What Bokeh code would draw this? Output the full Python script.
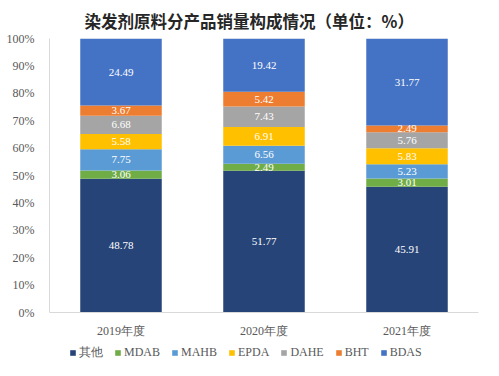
from bokeh.plotting import figure
from bokeh.layouts import column
from bokeh.models import FactorRange, Range1d, Legend, LegendItem, PrintfTickFormatter, FixedTicker, ColumnDataSource, LabelSet, Title
from bokeh.embed import file_html
from bokeh.resources import INLINE

years = ["2019年度", "2020年度", "2021年度"]
series = ["其他", "MDAB", "MAHB", "EPDA", "DAHE", "BHT", "BDAS"]
other = [48.78, 51.77, 45.91]
mdab = [3.06, 2.49, 3.01]
mahb = [7.75, 6.56, 5.23]
epda = [5.58, 6.91, 5.83]
dahe = [6.68, 7.43, 5.76]
bht = [3.67, 5.42, 2.49]
bdas = [24.49, 19.42, 31.77]
colors = ["#264478", "#70AD47", "#5B9BD5", "#FFC000", "#A5A5A5", "#ED7D31", "#4472C4"]

values = [other, mdab, mahb, epda, dahe, bht, bdas]
data = {"year": years}
for name, vals in zip(series, values):
    data[name] = vals
source = ColumnDataSource(data)

p = figure(x_range=FactorRange(factors=years), y_range=Range1d(0, 100),
           width=483, height=340, output_backend="svg", toolbar_location=None,
           min_border_left=49, min_border_right=5, min_border_top=13, min_border_bottom=28)
p.outline_line_color = None
p.grid.grid_line_color = None

renderers = p.vbar_stack(series, x="year", width=0.57, color=colors, source=source, line_color=None)

# data labels
lx, ly, lt = [], [], []
for i, y in enumerate(years):
    base = 0.0
    for vals in values:
        v = vals[i]
        lx.append(y)
        ly.append(base + v / 2)
        lt.append(f"{v:.2f}")
        base += v
lsrc = ColumnDataSource(dict(x=lx, y=ly, t=lt))
labels = LabelSet(x="x", y="y", text="t", source=lsrc, text_color="white",
                  text_font="Liberation Serif", text_font_size="11px",
                  text_align="center", text_baseline="middle")
p.add_layout(labels)

# axes
p.yaxis.ticker = FixedTicker(ticks=[0, 10, 20, 30, 40, 50, 60, 70, 80, 90, 100])
p.yaxis.formatter = PrintfTickFormatter(format="%d%%")
for ax in (p.xaxis[0], p.yaxis[0]):
    ax.axis_line_color = "#D9D9D9"
    ax.major_tick_line_color = None
    ax.minor_tick_line_color = None
    ax.major_label_text_font = "Liberation Serif"
    ax.major_label_text_color = "#595959"
    ax.major_label_text_font_size = "12px"
p.yaxis.major_label_standoff = 9
p.xaxis.major_label_standoff = 5

# title
t = Title(text="染发剂原料分产品销量构成情况（单位：%）", align="left", offset=35,
          text_font="Noto Sans CJK SC", text_font_style="bold", text_font_size="16.5px",
          text_color="#262626", standoff=12)
p.add_layout(t, "above")

# legend strip (same series, drawn off-view so only the legend shows)
lf = figure(x_range=p.x_range, y_range=Range1d(200, 300), width=483, height=30,
            output_backend="svg", toolbar_location=None,
            x_axis_location=None, y_axis_location=None,
            min_border_left=49, min_border_right=5, min_border_top=0, min_border_bottom=0)
lf.outline_line_color = None
lf.grid.grid_line_color = None
lrs = lf.vbar_stack(series, x="year", width=0.57, color=colors, source=source, line_color=None)

legend = Legend(items=[LegendItem(label=s, renderers=[r]) for s, r in zip(series, lrs)],
                orientation="horizontal", location=(20, 9),
                label_text_font="Liberation Serif", label_text_font_size="12px",
                label_text_color="#595959", glyph_width=7, glyph_height=7,
                label_height=14, label_standoff=3, spacing=11, border_line_color=None,
                background_fill_alpha=0, padding=0, margin=0)
lf.add_layout(legend)

open("out.html", "w").write(file_html(column(p, lf, spacing=0), INLINE))
